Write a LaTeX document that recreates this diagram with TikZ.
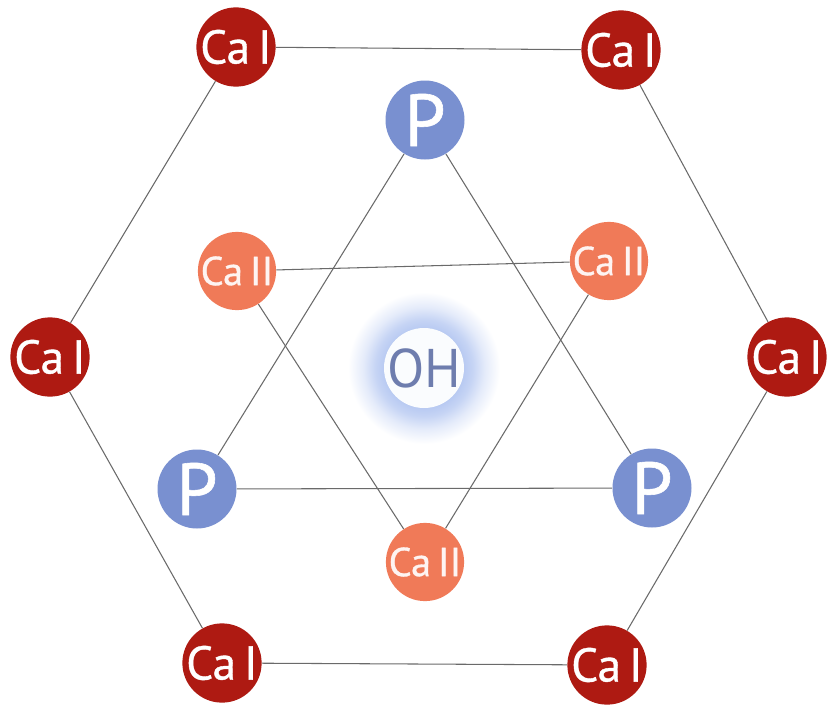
\documentclass[tikz,border=0pt]{standalone}
\usepackage{fontspec}
\setmainfont{PT Sans}
\newfontfamily\medfont{PT Sans}[FakeBold=0.8]
\definecolor{caone}{HTML}{AE1A12}
\definecolor{catwo}{HTML}{F07A58}
\definecolor{pcol}{HTML}{7990D0}
\definecolor{ohtext}{HTML}{6E7DAE}
\definecolor{glowc}{HTML}{B3C6F1}
\definecolor{linec}{HTML}{6A6A6A}
\pgfdeclareradialshading{glowshade}{\pgfpoint{0bp}{0bp}}{color(0bp)=(glowc); color(12bp)=(glowc); color(16bp)=(glowc!75!white); color(20bp)=(glowc!35!white); color(25bp)=(white)}
\begin{document}
\begin{tikzpicture}[x=0.02cm,y=-0.02cm,
  caI/.style={circle,fill=caone,minimum size=78*0.02cm,inner sep=0pt,text=white,font=\medfont\fontsize{27}{27}\selectfont},
  caII/.style={circle,fill=catwo,minimum size=75*0.02cm,inner sep=0pt,text=white!92!catwo,font=\medfont\fontsize{23}{23}\selectfont},
  patom/.style={circle,fill=pcol,minimum size=79*0.02cm,inner sep=0pt,text=white,font=\medfont\fontsize{42}{42}\selectfont},
  bond/.style={draw=linec,line width=0.6pt}]
\useasboundingbox (0,0) rectangle (832,717);
\fill[white] (0,0) rectangle (832,717);
% coordinates
\coordinate (c1) at (236,47);
\coordinate (c2) at (621,50);
\coordinate (c3) at (787,357);
\coordinate (c4) at (607,665);
\coordinate (c5) at (222,663);
\coordinate (c6) at (50,357);
% glow
\shade[shading=glowshade] (424,368) circle (76);
\fill[white!94!glowc] (424,368) circle (40);
\node[text=ohtext,font=\fontsize{31}{31}\selectfont] (oh) at (424,368) {OH};
% nodes
\node[caI] (a1) at (c1) {Ca\,I};
\node[caI] (a2) at (c2) {Ca\,I};
\node[caI] (a3) at (c3) {Ca\,I};
\node[caI] (a4) at (c4) {Ca\,I};
\node[caI] (a5) at (c5) {Ca\,I};
\node[caI] (a6) at (c6) {Ca\,I};
\node[patom] (p1) at (425,120) {P};
\node[patom] (p2) at (652,488) {P};
\node[patom] (p3) at (197,489) {P};
\node[caII] (b1) at (237,271) {Ca\,II};
\node[caII] (b2) at (609,261) {Ca\,II};
\node[caII] (b3) at (425,562) {Ca\,II};
% bonds
\draw[bond] (a1) -- (a2) (a2) -- (a3) (a3) -- (a4) (a4) -- (a5) (a5) -- (a6) (a6) -- (a1);
\draw[bond] (p1) -- (p2) (p2) -- (p3) (p3) -- (p1);
\draw[bond] (b1) -- (b2) (b2) -- (b3) (b3) -- (b1);
\end{tikzpicture}
\end{document}
